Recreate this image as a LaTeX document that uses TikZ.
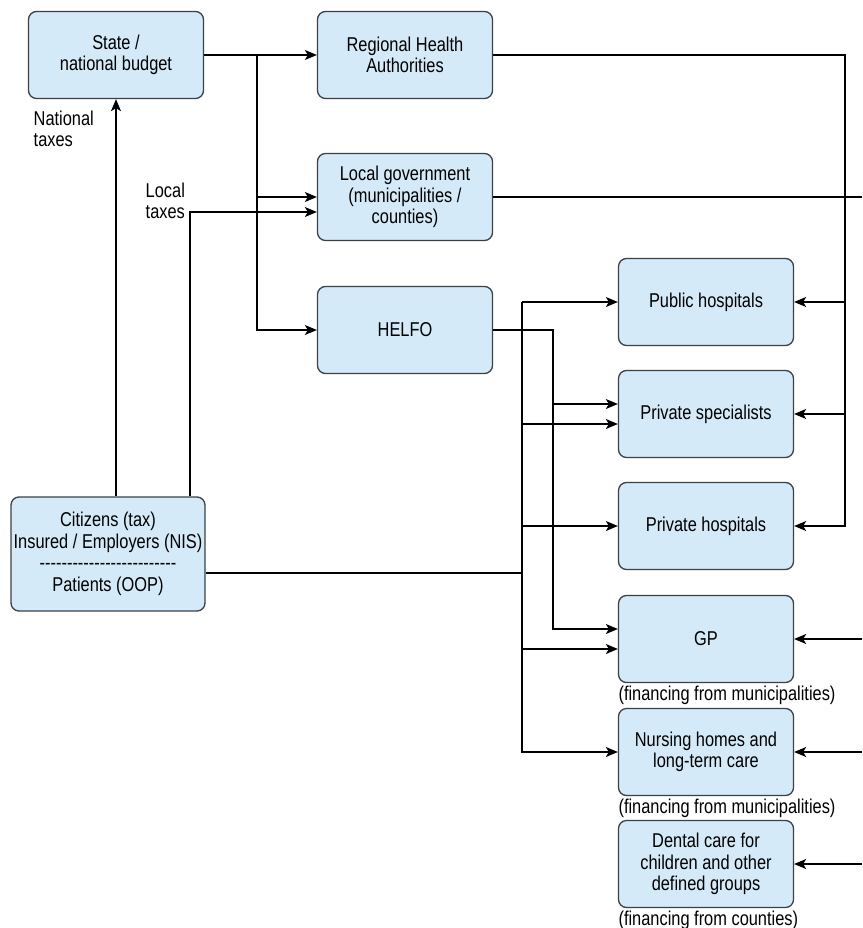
\documentclass[tikz,border=0pt]{standalone}
\usepackage{fontspec}
\setmainfont{Liberation Sans}[FakeStretch=0.82]
\usetikzlibrary{arrows.meta}
\definecolor{boxfill}{RGB}{213,234,248}
\definecolor{boxline}{RGB}{60,64,70}
\newcommand\dashline{{-}{-}{-}{-}{-}{-}{-}{-}{-}{-}{-}{-}{-}{-}{-}{-}{-}{-}{-}{-}{-}{-}{-}{-}{-}}
\begin{document}
\begin{tikzpicture}[x=1pt,y=-1pt,
    font=\fontsize{20}{21.5}\selectfont,
    >={Stealth[length=12pt,width=10pt,inset=3pt]},
    every path/.style={line width=1.4pt},
    box/.style={draw=boxline,fill=boxfill,rounded corners=8pt,line width=1.3pt,
        minimum width=175pt,minimum height=87pt,align=center,inner sep=0pt},
    note/.style={anchor=north west,inner sep=0pt,align=left}]
    \useasboundingbox (0,0) rectangle (862,928);
    % sources and funders
    \node[box] (State) at (116,55) {State /\\national budget};
    \node[box] (RHA) at (405,55) {Regional Health\\Authorities};
    \node[box] (LG) at (405,197) {Local government\\(municipalities /\\counties)};
    \node[box] (HELFO) at (405,330) {HELFO};
    \node[box,minimum width=194pt,minimum height=114pt] (Cit) at (108,554)
        {Citizens (tax)\\Insured / Employers (NIS)\\\dashline\\Patients (OOP)};
    % providers
    \node[box] (PubH) at (706,302) {Public hospitals};
    \node[box] (PrivS) at (706,414) {Private specialists};
    \node[box] (PrivH) at (706,526) {Private hospitals};
    \node[box] (GP) at (706,639) {GP};
    \node[box] (Nurs) at (706,752) {Nursing homes and\\long-term care};
    \node[box] (Dent) at (706,864) {Dental care for\\children and other\\defined groups};
    % labels
    \node[note] (natTax) at (33,110) {National\\taxes};
    \node[note] (locTax) at (145,182) {Local\\taxes};
    \node[note] (finGP) at ([yshift=-2pt]GP.south west) {(financing from municipalities)};
    \node[note] (finNurs) at ([yshift=-2pt]Nurs.south west) {(financing from municipalities)};
    \node[note] (finDent) at ([yshift=-2pt]Dent.south west) {(financing from counties)};
    % helper coordinates
    \coordinate (sb) at (257,0);
    \coordinate (lt) at (190,212);
    \coordinate (rr) at (845,0);
    \coordinate (re) at (862,0);
    \coordinate (hx) at (553,0);
    \coordinate (cx) at (522,0);
    % state budget
    \draw[->] (State.east) -- (RHA.west);
    \draw[->] (sb |- State.east) |- (HELFO.west);
    \draw[->] (sb |- LG.west) -- (LG.west);
    % taxes
    \draw[->] (Cit.north -| State.south) -- (State.south);
    \draw[->] (Cit.north -| lt) |- (lt -| LG.west);
    % regional health authorities
    \draw[->] (RHA.east) -| (rr |- PrivH.east) -- (PrivH.east);
    \draw[->] (rr |- PubH.east) -- (PubH.east);
    \draw[->] (rr |- PrivS.east) -- (PrivS.east);
    % local government
    \draw (LG.east) -- (re |- LG.east);
    \draw[->] (re |- GP.east) -- (GP.east);
    \draw[->] (re |- Nurs.east) -- (Nurs.east);
    \draw[->] (re |- Dent.east) -- (Dent.east);
    % HELFO
    \draw[->] (HELFO.east) -| ([yshift=10pt]hx |- GP.west) -- ([yshift=10pt]GP.west);
    \draw[->] ([yshift=10pt]hx |- PrivS.west) -- ([yshift=10pt]PrivS.west);
    % out of pocket
    \draw ([yshift=-19pt]Cit.east) -- ([yshift=-19pt]cx |- Cit.east);
    \draw[->] (cx |- PubH.west) -- (PubH.west);
    \draw[->] (cx |- PubH.west) |- (Nurs.west);
    \draw[->] ([yshift=-10pt]cx |- PrivS.west) -- ([yshift=-10pt]PrivS.west);
    \draw[->] (cx |- PrivH.west) -- (PrivH.west);
    \draw[->] ([yshift=-10pt]cx |- GP.west) -- ([yshift=-10pt]GP.west);
\end{tikzpicture}
\end{document}
